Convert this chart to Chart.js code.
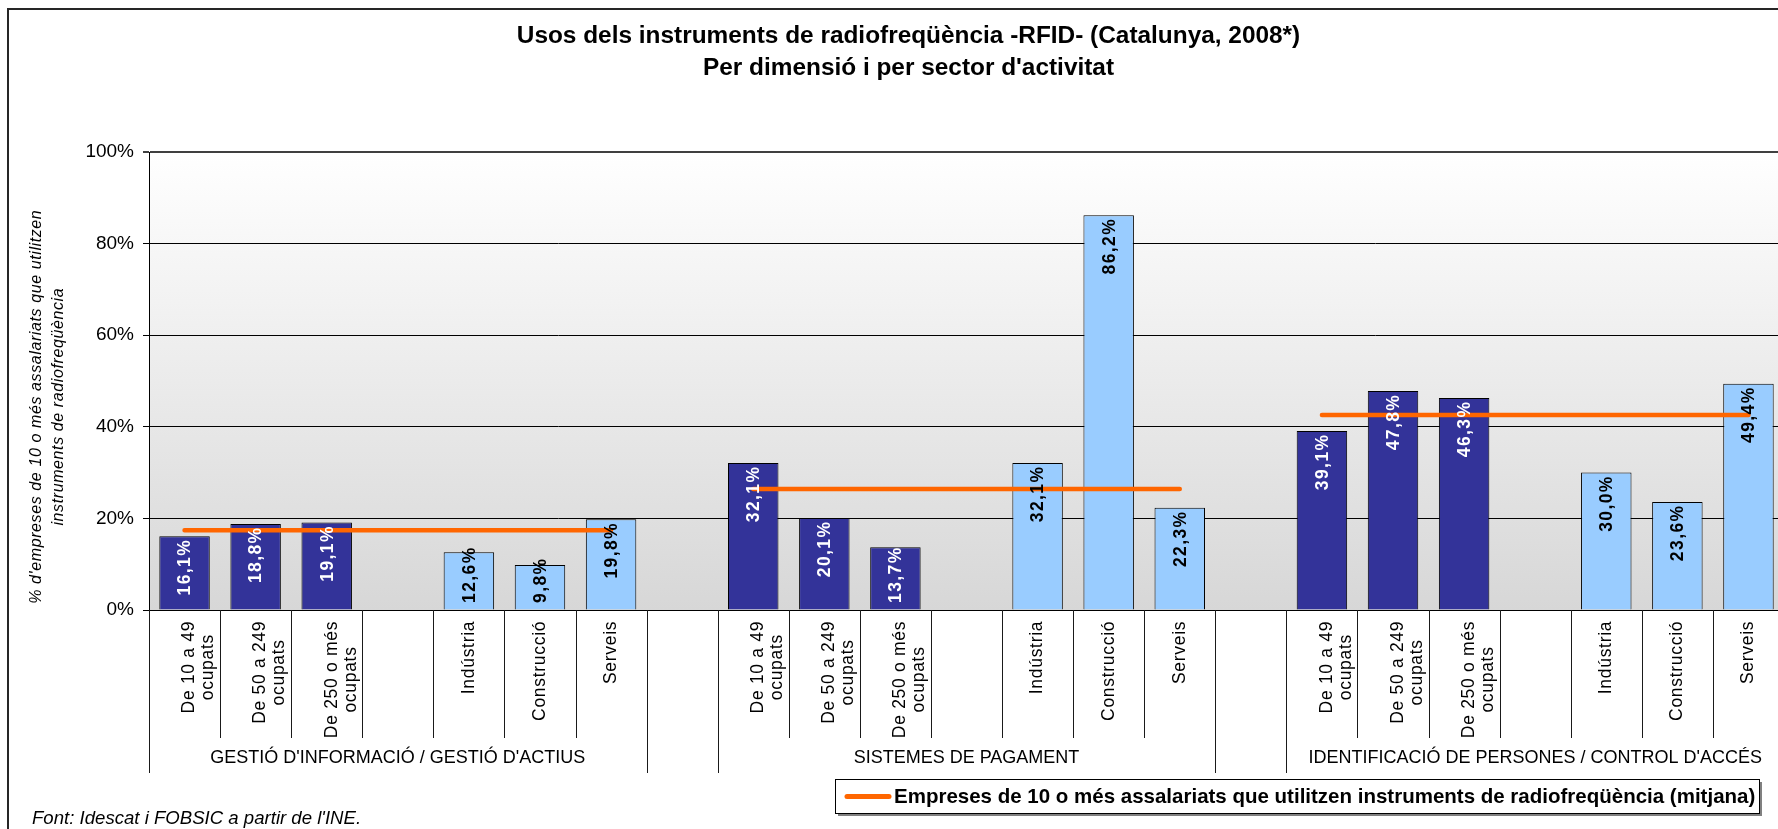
<!DOCTYPE html>
<html lang="ca">
<head>
<meta charset="utf-8">
<title>Usos dels instruments de radiofreqüència -RFID-</title>
<script src="https://cdn.jsdelivr.net/npm/chart.js@4.4.1/dist/chart.umd.min.js"></script>
<style>
  html, body { margin: 0; padding: 0; overflow: hidden; background: #fff; }
  #wrap { position: absolute; left: 0; top: 0; width: 1809px; height: 829px; }
</style>
</head>
<body>
<div id="wrap"><canvas id="rfidChart"></canvas></div>
<script>
// Usos RFID per dimensió i per sector, % d'empreses de 10 o més assalariats
var groupNames = ['GESTIÓ D\'INFORMACIÓ / GESTIÓ D\'ACTIUS', 'SISTEMES DE PAGAMENT', 'IDENTIFICACIÓ DE PERSONES / CONTROL D\'ACCÉS'];
var sizeLabels = [['De 10 a 49', 'ocupats'], ['De 50 a 249', 'ocupats'], ['De 250 o més', 'ocupats']];
var sectorLabels = [['Indústria'], ['Construcció'], ['Serveis']];
var sizeValues = [[16.1, 18.8, 19.1], [32.1, 20.1, 13.7], [39.1, 47.8, 46.3]];
var sectorValues = [[12.6, 9.8, 19.8], [32.1, 86.2, 22.3], [30.0, 23.6, 49.4]];
var averageValues = [17.4, 26.4, 42.6];
var yTicks = [0, 20, 40, 60, 80, 100];
var yTitle = ['% d\'empreses de 10 o més assalariats que utilitzen', 'instruments de radiofreqüència'];
var averageLabel = 'Empreses de 10 o més assalariats que utilitzen instruments de radiofreqüència (mitjana)';
var sourceNote = 'Font: Idescat i FOBSIC a partir de l\'INE.';

var FONT = 'Arial, "Liberation Sans", sans-serif';

// build the category axis: 3 sizes, a blank slot, 3 sectors; blank slot between groups
var labels = [], sizeData = [], sectorData = [], averageData = [], groupStarts = [];
groupNames.forEach(function(name, gi) {
    if (gi > 0) {
        labels.push(['']); sizeData.push(null); sectorData.push(null); averageData.push(null);
    }
    groupStarts.push(labels.length);
    sizeLabels.forEach(function(l, i) {
        labels.push(l); sizeData.push(sizeValues[gi][i]); sectorData.push(null); averageData.push(averageValues[gi]);
    });
    labels.push(['']); sizeData.push(null); sectorData.push(null); averageData.push(averageValues[gi]);
    sectorLabels.forEach(function(l, i) {
        labels.push(l); sizeData.push(null); sectorData.push(sectorValues[gi][i]); averageData.push(averageValues[gi]);
    });
});
var groupEdges = [];
groupStarts.forEach(function(s) { groupEdges.push(s, s + 7); });

function fmt(v) {
    return v.toFixed(1).replace('.', ',') + '%';
}

// length of a letter-spaced run, and sets the spacing on the context
function textRun(ctx, text, spacing) {
    ctx.letterSpacing = '0px';
    var w = ctx.measureText(text).width;
    ctx.letterSpacing = spacing + 'px';
    return w + spacing * (Array.from(text).length - 1);
}

// text reading bottom-to-top, starting at yStart
function drawUp(ctx, text, x, yStart) {
    ctx.save();
    ctx.translate(x, yStart);
    ctx.rotate(-Math.PI / 2);
    ctx.textAlign = 'left';
    ctx.textBaseline = 'middle';
    ctx.fillText(text, 0, 0);
    ctx.restore();
}

var chartDecor = {
    id: 'chartDecor',
    beforeDraw: function(chart) {
        var ctx = chart.ctx, a = chart.chartArea;
        ctx.save();
        ctx.fillStyle = '#fff';
        ctx.fillRect(0, 0, chart.width, chart.height);
        ctx.strokeStyle = '#262626';
        ctx.lineWidth = 2;
        ctx.strokeRect(8, 9, 1800, 900);
        var g = ctx.createLinearGradient(0, a.top, 0, a.bottom);
        g.addColorStop(0, '#ffffff');
        g.addColorStop(1, '#d7d7d7');
        ctx.fillStyle = g;
        ctx.fillRect(a.left, a.top, a.right - a.left, a.bottom - a.top);
        ctx.restore();
    },
    afterDatasetsDraw: function(chart) {
        var ctx = chart.ctx;
        var base = chart.scales.y.getPixelForValue(0);
        chart.data.datasets.forEach(function(ds, i) {
            if (ds.type === 'line') return;
            chart.getDatasetMeta(i).data.forEach(function(bar, j) {
                var v = ds.data[j];
                if (v == null) return;
                var txt = fmt(v);
                ctx.save();
                ctx.font = 'bold 17.5px ' + FONT;
                ctx.fillStyle = ds.labelColor;
                var len = textRun(ctx, txt, 1.4);
                var start = Math.min(bar.y + 4 + len, base - 7);
                drawUp(ctx, txt, bar.x + 1, start);
                ctx.restore();
            });
        });
    },
    afterDraw: function(chart) {
        var ctx = chart.ctx, x = chart.scales.x, a = chart.chartArea;
        var n = chart.data.labels.length, step = (x.right - x.left) / n;
        var base = a.bottom;
        ctx.save();

        // cell lines under the axis
        ctx.strokeStyle = '#1a1a1a';
        ctx.lineWidth = 1;
        for (var i = 0; i <= n; i++) {
            var px = Math.round(x.left + i * step) + 0.5;
            ctx.beginPath();
            ctx.moveTo(px, base);
            ctx.lineTo(px, groupEdges.indexOf(i) >= 0 ? 773 : 738);
            ctx.stroke();
        }

        // category labels; a second line sits to the right of the first
        ctx.fillStyle = '#000';
        ctx.font = '17.5px ' + FONT;
        chart.data.labels.forEach(function(lines, i) {
            var cx = x.getPixelForValue(i);
            var lens = lines.map(function(l) { return textRun(ctx, l, 0.7); });
            var block = Math.max.apply(null, lens);
            lines.forEach(function(l, j) {
                var off = lines.length > 1 ? 5 + j * 19 : 0;
                drawUp(ctx, l, cx + off, 621.5 + block / 2 + lens[j] / 2);
            });
        });

        // group labels
        ctx.letterSpacing = '0px';
        ctx.font = '18px ' + FONT;
        ctx.textAlign = 'center';
        ctx.textBaseline = 'middle';
        groupNames.forEach(function(name, gi) {
            ctx.fillText(name, x.left + (groupStarts[gi] + 3.5) * step, 758);
        });

        // y axis title
        ctx.font = 'italic 16px ' + FONT;
        var titleX = [37, 59];
        yTitle.forEach(function(l, j) {
            var len = textRun(ctx, l, 0.6);
            drawUp(ctx, l, titleX[j], 407 + len / 2);
        });

        // legend box
        ctx.letterSpacing = '0px';
        var lx = 835, ly = 779, lw = 924, lh = 34;
        ctx.fillStyle = '#808080';
        ctx.fillRect(lx + 3, ly + 3, lw, lh);
        ctx.fillStyle = '#fff';
        ctx.fillRect(lx, ly, lw, lh);
        ctx.strokeStyle = '#000';
        ctx.lineWidth = 1;
        ctx.strokeRect(lx + 0.5, ly + 0.5, lw, lh);
        ctx.strokeStyle = '#FF6600';
        ctx.lineWidth = 5;
        ctx.lineCap = 'round';
        ctx.beginPath();
        ctx.moveTo(847, 796.5);
        ctx.lineTo(889, 796.5);
        ctx.stroke();
        ctx.fillStyle = '#000';
        ctx.font = 'bold 20.5px ' + FONT;
        ctx.textAlign = 'left';
        ctx.textBaseline = 'middle';
        ctx.fillText(averageLabel, 894, 797);

        // source
        ctx.font = 'italic 18.6px ' + FONT;
        ctx.textBaseline = 'alphabetic';
        ctx.fillText(sourceNote, 32, 824);
        ctx.restore();
    }
};

var ctx = document.getElementById('rfidChart').getContext('2d');
var rfidChart = new Chart(ctx, {
    type: 'bar',
    data: {
        labels: labels,
        datasets: [{
            type: 'line',
            label: averageLabel,
            data: averageData,
            borderColor: '#FF6600',
            borderWidth: 4.5,
            borderCapStyle: 'round',
            pointRadius: 0,
            spanGaps: false,
            order: 0
        }, {
            label: 'Per dimensió',
            data: sizeData,
            backgroundColor: '#333399',
            borderColor: '#000',
            borderWidth: 1,
            labelColor: '#fff',
            grouped: false,
            order: 1
        }, {
            label: 'Per sector',
            data: sectorData,
            backgroundColor: '#99CCFF',
            borderColor: '#000',
            borderWidth: 1,
            labelColor: '#000',
            grouped: false,
            order: 1
        }]
    },
    options: {
        responsive: true,
        maintainAspectRatio: false,
        animation: false,
        layout: { padding: { left: 8, right: 0, top: 0, bottom: 0 } },
        datasets: {
            bar: { categoryPercentage: 1, barPercentage: 0.71 }
        },
        scales: {
            x: {
                ticks: { display: false },
                grid: { display: false },
                border: { color: '#000', width: 1 },
                afterFit: function(s) { s.height = 219; }
            },
            y: {
                min: 0,
                max: 100,
                afterBuildTicks: function(s) {
                    s.ticks = yTicks.map(function(v) { return { value: v }; });
                },
                ticks: {
                    callback: function(v) { return v + '%'; },
                    color: '#000',
                    font: { family: FONT, size: 19 },
                    padding: 9
                },
                grid: {
                    color: function(c) { return c.tick && c.tick.value === 100 ? '#404040' : '#000'; },
                    lineWidth: function(c) { return c.tick && c.tick.value === 100 ? 2 : 1; },
                    tickLength: 6
                },
                border: { color: '#000', width: 1 },
                afterFit: function(s) { s.width = 141; }
            },
            // empty gutter on the right of the plot
            yRight: {
                type: 'linear',
                position: 'right',
                ticks: { display: false },
                grid: { display: false },
                border: { display: false },
                afterFit: function(s) { s.width = 25; }
            }
        },
        plugins: {
            legend: { display: false },
            tooltip: { enabled: false },
            title: {
                display: true,
                text: ['Usos dels instruments de radiofreqüència -RFID- (Catalunya, 2008*)', 'Per dimensió i per sector d\'activitat'],
                color: '#000',
                font: { family: FONT, size: 24.4, weight: 'bold', lineHeight: 1.3115 },
                padding: { top: 20, bottom: 68 }
            }
        }
    },
    plugins: [chartDecor]
});
</script>
</body>
</html>
